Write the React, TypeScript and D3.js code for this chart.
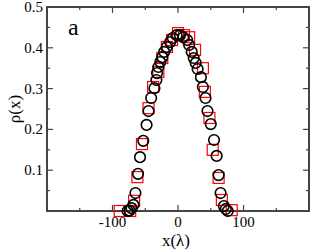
import React, { useEffect, useRef } from "react";
import * as d3 from "d3";

// circles (black open) — x in units of lambda, rho(x)
const circleX = [-77, -74, -71, -68, -65, -61, -58, -53, -48, -45, -41, -36, -33, -32, -30, -27, -24, -21, -17, -12, -8, -2, 3, 8, 14, 17, 21, 24, 27, 30, 35, 38, 42, 45, 50, 55, 59, 62, 65, 70, 73, 76];
const circleY = [0.0, 0.001, 0.007, 0.015, 0.044, 0.091, 0.132, 0.172, 0.211, 0.245, 0.277, 0.301, 0.321, 0.338, 0.353, 0.365, 0.377, 0.39, 0.402, 0.414, 0.424, 0.431, 0.431, 0.426, 0.419, 0.407, 0.39, 0.375, 0.363, 0.348, 0.328, 0.304, 0.277, 0.245, 0.213, 0.174, 0.135, 0.088, 0.044, 0.012, 0.005, 0.0];

// squares (red open)
const squareX = [-89, -73, -67, -62, -55, -45, -38, -30, -24, -17, -9, 0, 9, 17, 26, 38, 41, 48, 53, 62, 67, 82];
const squareY = [0.0, 0.0, 0.025, 0.083, 0.164, 0.252, 0.304, 0.341, 0.375, 0.402, 0.419, 0.436, 0.431, 0.426, 0.395, 0.35, 0.292, 0.228, 0.15, 0.081, 0.027, 0.002];

const xMajor = [-100, 0, 100];
const xMinor = [-150, -50, 50, 150];
const yMajor = [0.1, 0.2, 0.3, 0.4, 0.5];
const yMinor = [0.05, 0.15, 0.25, 0.35, 0.45];

const W = 311;
const H = 250;
const margin = { left: 47, top: 7, right: 2, bottom: 39 };

export default function App() {
  const ref = useRef<SVGSVGElement>(null);

  useEffect(() => {
    const svg = d3.select(ref.current);
    svg.selectAll("*").remove();

    const x = d3.scaleLinear().domain([-200, 200]).range([margin.left, W - margin.right]);
    const y = d3.scaleLinear().domain([0, 0.5]).range([H - margin.bottom, margin.top]);
    const font = "'Liberation Serif', 'Times New Roman', serif";
    const frame = "#444";

    const [x0, x1] = x.range();
    const [y0, y1] = y.range();

    // ticks pointing inward on all four sides
    const ticks = svg.append("g").attr("stroke", frame).attr("stroke-width", 1.2);
    const vt = (vals: number[], len: number) => {
      vals.forEach((v) => {
        ticks.append("line").attr("x1", x(v)).attr("x2", x(v)).attr("y1", y0).attr("y2", y0 - len);
        ticks.append("line").attr("x1", x(v)).attr("x2", x(v)).attr("y1", y1).attr("y2", y1 + len);
      });
    };
    const ht = (vals: number[], len: number) => {
      vals.forEach((v) => {
        ticks.append("line").attr("y1", y(v)).attr("y2", y(v)).attr("x1", x0).attr("x2", x0 + len);
        ticks.append("line").attr("y1", y(v)).attr("y2", y(v)).attr("x1", x1).attr("x2", x1 - len);
      });
    };
    vt(xMajor, 6);
    vt(xMinor, 3);
    ht(yMajor, 6);
    ht(yMinor, 3);

    svg.append("rect")
      .attr("x", x0).attr("y", y1)
      .attr("width", x1 - x0).attr("height", y0 - y1)
      .attr("fill", "none").attr("stroke", frame).attr("stroke-width", 2);

    // tick labels
    svg.append("g").selectAll("text").data(xMajor).join("text")
      .attr("x", (d) => x(d)).attr("y", y0 + 16)
      .attr("text-anchor", "middle")
      .attr("font-family", font).attr("font-size", 15)
      .text((d) => String(d));

    svg.append("g").selectAll("text").data(yMajor).join("text")
      .attr("x", x0 - 4).attr("y", (d) => y(d) + 5)
      .attr("text-anchor", "end")
      .attr("font-family", font).attr("font-size", 15)
      .text((d) => d.toFixed(1));

    // axis titles
    svg.append("text")
      .attr("x", (x0 + x1) / 2 - 2).attr("y", 246)
      .attr("text-anchor", "middle")
      .attr("font-family", font).attr("font-size", 17)
      .text("x(λ)");
    svg.append("text")
      .attr("transform", `translate(20, ${(y0 + y1) / 2}) rotate(-90)`)
      .attr("text-anchor", "middle")
      .attr("font-family", font).attr("font-size", 17)
      .text("ρ(x)");

    svg.append("text")
      .attr("x", 68).attr("y", 35)
      .attr("font-family", font).attr("font-size", 24)
      .text("a");

    // red squares
    const s = 11;
    svg.append("g").selectAll("rect").data(squareX).join("rect")
      .attr("x", (d) => x(d) - s / 2)
      .attr("y", (d, i) => y(squareY[i]) - s / 2)
      .attr("width", s).attr("height", s)
      .attr("fill", "none").attr("stroke", "#ff0000").attr("stroke-width", 1.2);

    // black circles
    svg.append("g").selectAll("circle").data(circleX).join("circle")
      .attr("cx", (d) => x(d))
      .attr("cy", (d, i) => y(circleY[i]))
      .attr("r", 5.3)
      .attr("fill", "none").attr("stroke", "#000").attr("stroke-width", 1.6);
  }, []);

  return <svg ref={ref} width={W} height={H} style={{ position: "absolute", left: 0, top: 0 }} />;
}
